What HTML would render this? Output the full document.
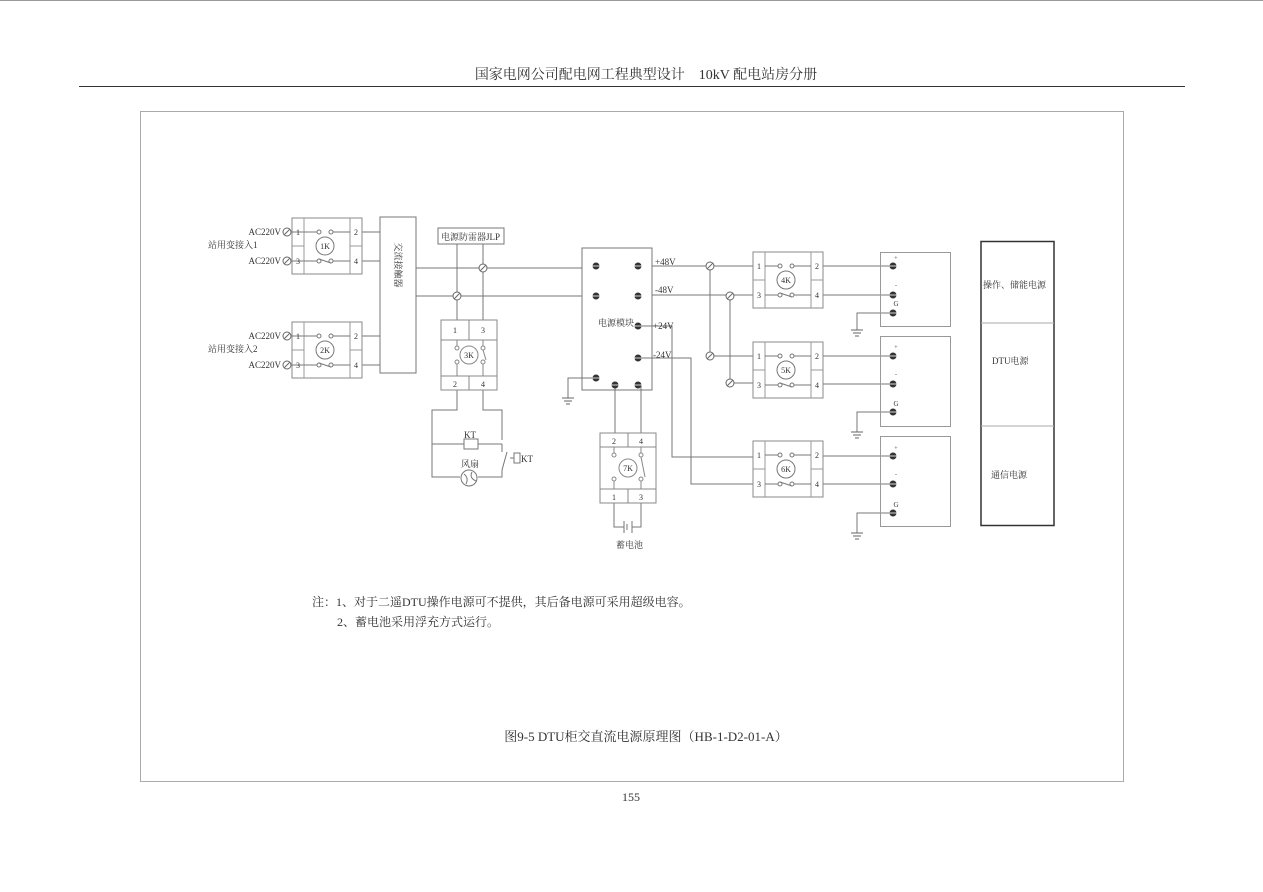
<!DOCTYPE html><html><head><meta charset="utf-8"><style>body{margin:0;background:#fff}svg{display:block}text{font-family:"Liberation Serif","Noto Serif CJK SC",serif;fill:#333}</style></head><body>
<svg width="1263" height="892" viewBox="0 0 1263 892" xmlns="http://www.w3.org/2000/svg">
<defs>
<g id="sw"><rect x="0" y="0" width="70" height="56" fill="none" stroke="#888"/><line x1="12" y1="0" x2="12" y2="56" stroke="#999"/><line x1="58" y1="0" x2="58" y2="56" stroke="#999"/><line x1="0" y1="28" x2="12" y2="28" stroke="#999"/><line x1="58" y1="28" x2="70" y2="28" stroke="#999"/><circle cx="33" cy="28" r="9" fill="none" stroke="#777"/><circle cx="27" cy="14" r="2" fill="none" stroke="#777"/><circle cx="39" cy="14" r="2" fill="none" stroke="#777"/><circle cx="27" cy="43" r="2" fill="none" stroke="#777"/><circle cx="39" cy="43" r="2" fill="none" stroke="#777"/><path d="M12 14H25M41 14H58M12 43H25M41 43H58M27 41L39 45" stroke="#777" fill="none"/></g>
<g id="dot"><circle r="3.5" fill="#333"/><line x1="-3.5" y1="0" x2="3.5" y2="0" stroke="#fff" stroke-width="0.8"/></g>
<g id="mk"><circle r="4" fill="#fff" stroke="#666"/><line x1="-3" y1="3" x2="3" y2="-3" stroke="#666"/></g>
<g id="gnd"><path d="M-6 0H6M-4 3H4M-2 6H2" stroke="#666"/></g>
</defs>
<line x1="0" y1="0.5" x2="1263" y2="0.5" stroke="#999"/>
<text x="646" y="79" font-size="14" text-anchor="middle">国家电网公司配电网工程典型设计　10kV 配电站房分册</text>
<line x1="79" y1="86.5" x2="1185" y2="86.5" stroke="#333"/>
<rect x="140.5" y="111.5" width="983" height="670" fill="none" stroke="#aaa"/>
<g stroke="#777" fill="none">
<path d="M290 232H304M290 261H304M290 336H304M290 365H304"/>
<path d="M362 232H380M362 261H380M362 336H380M362 365H380"/>
<rect x="380" y="217" width="36" height="156"/>
<rect x="438" y="228" width="66" height="16"/>
<path d="M416 268H582M416 296H582M457 244V320M483 244V320"/>
<rect x="582" y="248" width="70" height="142"/>
<path d="M652 266H753M652 295H753M710 266V356H753M730 295V383H753"/>
<path d="M638 326H672V457H753M638 358H691V484H753"/>
<path d="M823 266H893M823 295H893M893 313H857V330M823 356H893M823 384H893M893 412H857V432M823 456H893M823 484H893M893 513H857V533"/>
<path d="M596 378H568V398M615 385V433M641 385V433"/>
<path d="M457 390V410H432V477H460M483 390V410H502V440M432 444H464M478 444H502M478 477H502V470L507 452M510 458H514M502 452V444"/>
<rect x="464" y="439" width="14" height="10"/>
<rect x="514" y="453" width="6" height="10"/>
<circle cx="469" cy="478" r="8"/>
<path d="M464 474Q469 478 466 484M472 472Q469 478 476 481"/>
<path d="M614 503V527H624M641 503V527H632M624 521V533M627 524V530M632 521V533"/>
<rect x="880.5" y="252.5" width="70" height="74" stroke="#999"/>
<rect x="880.5" y="336.5" width="70" height="90" stroke="#999"/>
<rect x="880.5" y="436.5" width="70" height="90" stroke="#999"/>
</g>
<use href="#gnd" x="568" y="398"/><use href="#gnd" x="857" y="330"/><use href="#gnd" x="857" y="432"/><use href="#gnd" x="857" y="533"/>
<rect x="981" y="241.5" width="73" height="284" fill="none" stroke="#333" stroke-width="1.5"/>
<path d="M981 323H1054M981 426H1054" stroke="#aaa"/>
<use href="#sw" x="292" y="218"/><use href="#sw" x="292" y="322"/>
<use href="#sw" x="753" y="252"/><use href="#sw" x="753" y="342"/><use href="#sw" x="753" y="441"/>
<g stroke="#888" fill="none"><rect x="441" y="320" width="56" height="70"/><path d="M441 340H497M441 376H497M469 320V340M469 376V390M457 340V346M483 340V346M457 364V376M483 364V376"/><circle cx="469" cy="355" r="9"/><circle cx="457" cy="348" r="2"/><circle cx="457" cy="362" r="2"/><circle cx="483" cy="348" r="2"/><circle cx="483" cy="362" r="2"/><path d="M483 350L486 360"/>
<rect x="600" y="433" width="56" height="70"/><path d="M600 447H656M600 489H656M628 433V447M628 489V503M614 447V453M641 447V453M614 481V489M641 481V489"/><circle cx="628" cy="468" r="9"/><circle cx="614" cy="455" r="2"/><circle cx="614" cy="479" r="2"/><circle cx="641" cy="455" r="2"/><circle cx="641" cy="479" r="2"/><path d="M641 457L645 477"/></g>
<use href="#dot" x="596" y="266"/><use href="#dot" x="638" y="266"/><use href="#dot" x="596" y="296"/><use href="#dot" x="638" y="296"/><use href="#dot" x="638" y="326"/><use href="#dot" x="638" y="358"/><use href="#dot" x="596" y="378"/><use href="#dot" x="615" y="385"/><use href="#dot" x="638" y="385"/>
<use href="#dot" x="893" y="266"/><use href="#dot" x="893" y="295"/><use href="#dot" x="893" y="313"/><use href="#dot" x="893" y="356"/><use href="#dot" x="893" y="384"/><use href="#dot" x="893" y="412"/><use href="#dot" x="893" y="456"/><use href="#dot" x="893" y="484"/><use href="#dot" x="893" y="513"/>
<use href="#mk" x="483" y="268"/><use href="#mk" x="457" y="296"/><use href="#mk" x="710" y="266"/><use href="#mk" x="730" y="296"/><use href="#mk" x="710" y="356"/><use href="#mk" x="730" y="383"/>
<use href="#mk" x="287" y="232"/><use href="#mk" x="287" y="261"/><use href="#mk" x="287" y="336"/><use href="#mk" x="287" y="365"/>
<g font-size="9">
<text x="281" y="235" text-anchor="end">AC220V</text><text x="281" y="264" text-anchor="end">AC220V</text><text x="281" y="339" text-anchor="end">AC220V</text><text x="281" y="368" text-anchor="end">AC220V</text>
<text x="208" y="248">站用变接入1</text><text x="208" y="352">站用变接入2</text>
<text x="441" y="240">电源防雷器JLP</text>
<text x="598" y="326">电源模块</text>
<text x="655" y="265">+48V</text><text x="655" y="293">-48V</text><text x="653" y="329">+24V</text><text x="653" y="358">-24V</text>
<text x="464" y="438">KT</text><text x="461" y="467">风扇</text><text x="521" y="462">KT</text>
<text x="616" y="548">蓄电池</text>
<text x="983" y="288">操作、储能电源</text><text x="992" y="364">DTU电源</text><text x="991" y="478">通信电源</text>
<text x="398" y="265" transform="rotate(90 398 265)" text-anchor="middle" dy="3">交流接触器</text>
</g>
<g font-size="8" text-anchor="middle">
<text x="298" y="235">1</text><text x="298" y="264">3</text><text x="356" y="235">2</text><text x="356" y="264">4</text><text x="325" y="249">1K</text>
<text x="298" y="339">1</text><text x="298" y="368">3</text><text x="356" y="339">2</text><text x="356" y="368">4</text><text x="325" y="353">2K</text>
<text x="759" y="269">1</text><text x="759" y="298">3</text><text x="817" y="269">2</text><text x="817" y="298">4</text><text x="786" y="283">4K</text>
<text x="759" y="359">1</text><text x="759" y="388">3</text><text x="817" y="359">2</text><text x="817" y="388">4</text><text x="786" y="373">5K</text>
<text x="759" y="458">1</text><text x="759" y="487">3</text><text x="817" y="458">2</text><text x="817" y="487">4</text><text x="786" y="472">6K</text>
<text x="455" y="333">1</text><text x="483" y="333">3</text><text x="455" y="387">2</text><text x="483" y="387">4</text><text x="469" y="358">3K</text>
<text x="614" y="444">2</text><text x="641" y="444">4</text><text x="614" y="500">1</text><text x="641" y="500">3</text><text x="628" y="471">7K</text>
<text x="896" y="260" font-size="6">+</text><text x="896" y="287" font-size="6">-</text><text x="896" y="306" font-size="7">G</text>
<text x="896" y="349" font-size="6">+</text><text x="896" y="376" font-size="6">-</text><text x="896" y="406" font-size="7">G</text>
<text x="896" y="450" font-size="6">+</text><text x="896" y="476" font-size="6">-</text><text x="896" y="507" font-size="7">G</text>
</g>
<text x="312" y="606" font-size="12">注：1、对于二遥DTU操作电源可不提供，其后备电源可采用超级电容。</text>
<text x="337" y="626" font-size="12">2、蓄电池采用浮充方式运行。</text>
<text x="646" y="741" font-size="13" text-anchor="middle">图9-5 DTU柜交直流电源原理图（HB-1-D2-01-A）</text>
<text x="631" y="801" font-size="12" text-anchor="middle">155</text>
</svg></body></html>
